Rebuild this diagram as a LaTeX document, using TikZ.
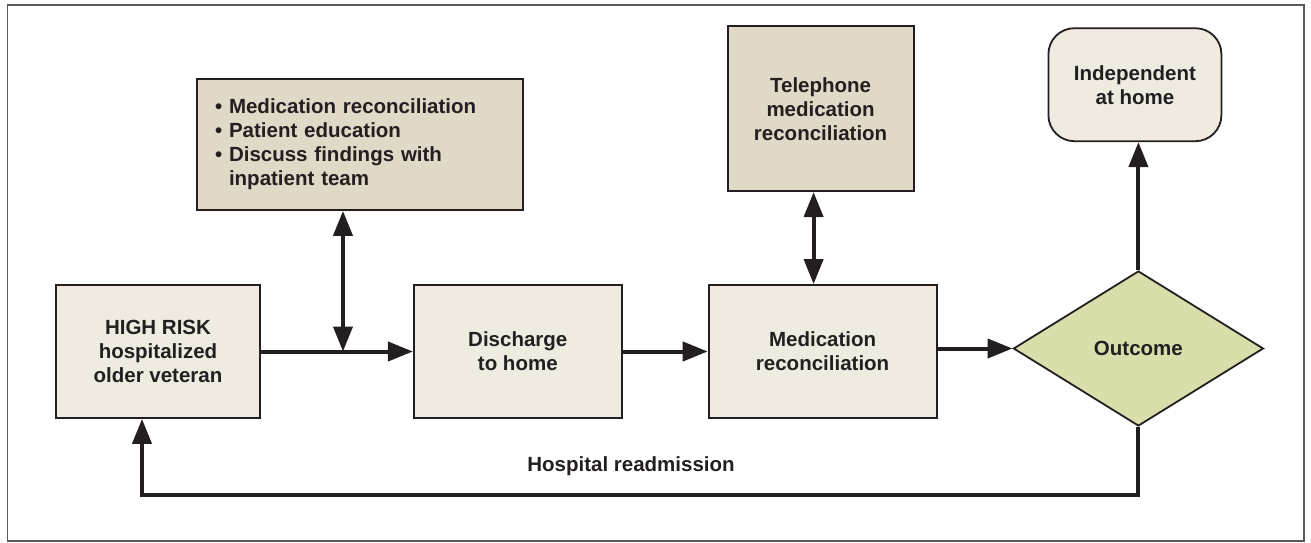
\documentclass[tikz,border=0pt]{standalone}
\usepackage{fontspec}
\setmainfont{Liberation Sans}
\usepackage{tikz}
\usetikzlibrary{arrows.meta,positioning,shapes.geometric,calc}

\definecolor{boxlight}{HTML}{EFEBE0}
\definecolor{boxdark}{HTML}{E0D9C7}
\definecolor{outfill}{HTML}{D9DFAA}
\definecolor{ink}{HTML}{231F20}

\begin{document}
\begin{tikzpicture}[
  x=1pt, y=1pt,
  >={Triangle[length=25pt, width=19pt]},
  every node/.style={font=\fontsize{20.5}{24}\selectfont\bfseries, text=ink},
  box/.style={draw=ink, line width=1.8pt, minimum height=133pt, align=center},
  flow/.style={draw=ink, line width=4pt}
]
  \useasboundingbox (0,0) rectangle (1311,542);
  \draw[gray!70!black, line width=1.2pt] (7.5,1) rectangle (1304,537);

  \node[box, fill=boxlight, minimum width=204pt] (risk) at (158,190.5)
    {HIGH RISK\\hospitalized\\older veteran};
  \node[box, fill=boxlight, minimum width=208pt, right=152pt of risk] (discharge)
    {Discharge\\to home};
  \node[box, fill=boxlight, minimum width=228pt, right=85pt of discharge] (medrec)
    {Medication\\reconciliation};
  \node[diamond, draw=ink, line width=1.8pt, fill=outfill, aspect=1.63,
        minimum width=250pt, minimum height=155pt, inner sep=0pt,
        right=75pt of medrec, yshift=3pt] (outcome) {Outcome};
  \node[box, fill=boxdark, minimum height=131pt, text width=290pt, inner xsep=18pt,
        align=left] (educ) at (360,397.5)
    {\textbullet\ Medication reconciliation\\
     \textbullet\ Patient education\\
     \textbullet\ Discuss findings with\\
     \phantom{\textbullet\ }inpatient team};
  \node[box, fill=boxdark, minimum width=186pt, minimum height=165pt,
        above=92pt of medrec, xshift=-2pt] (phone)
    {Telephone\\medication\\reconciliation};
  \node[box, fill=boxlight, rounded corners=26pt, minimum width=173pt,
        minimum height=113pt, above=128pt of outcome, xshift=-3.5pt] (home)
    {Independent\\at home};
  \node (readm) at (631,76) {Hospital readmission};

  \coordinate (join) at ($(risk.east)!0.54!(discharge.west)$);

  \draw[flow, ->] (risk) -- (discharge);
  \draw[flow, ->] (discharge) -- (medrec);
  \draw[flow, ->] (medrec.east |- outcome.west) -- (outcome.west);
  \draw[flow, <->] (educ.south -| join) -- (join);
  \draw[flow, <->] ([xshift=-9pt]medrec.north |- phone.south)
    -- ([xshift=-9pt]medrec.north);
  \draw[flow, ->] (outcome.north) -- (outcome.north |- home.south);
  \draw[flow, ->] (outcome.south) -- ++(0,-68) -| ([xshift=-16pt]risk.south);
\end{tikzpicture}
\end{document}
